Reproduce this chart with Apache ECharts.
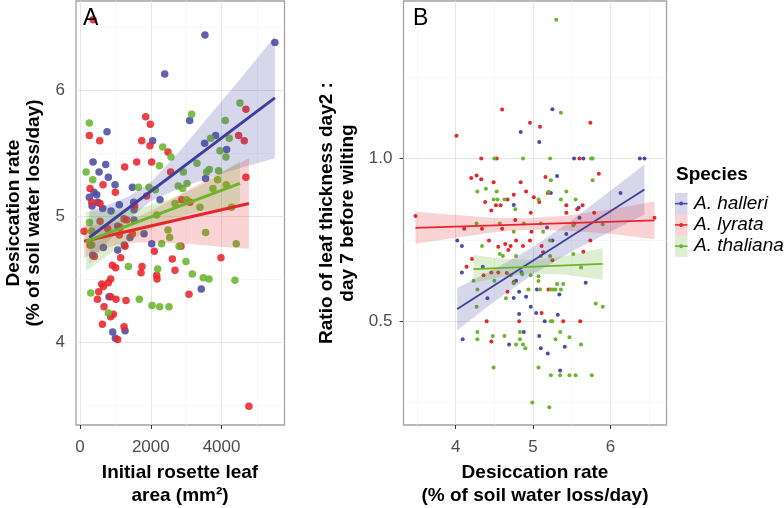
<!DOCTYPE html>
<html>
<head>
<meta charset="utf-8">
<script src="https://cdn.jsdelivr.net/npm/echarts@6/dist/echarts.min.js"></script>
<style>
  html, body { margin: 0; padding: 0; background: #fff; }
  #chart { width: 784px; height: 508px; }
</style>
</head>
<body>
<div id="chart"></div>
<script>
// Panel A: initial rosette leaf area (mm²) vs desiccation rate
var areaHalleri = [[3531,6.44],[5508,6.38],[2392,6.13],[3099,5.76],[763,5.67],[2053,5.60],[3522,5.58],[3833,5.64],[4144,5.53],[367,5.43],[725,5.41],[537,5.35],[800,5.31],[3550,5.30],[989,5.25],[1478,5.23],[395,5.19],[471,5.17],[263,5.15],[339,5.08],[500,5.11],[641,5.06],[1110,5.09],[876,5.04],[1525,5.05],[1515,5.11],[2260,5.13],[1064,4.92],[1525,4.97],[1412,4.83],[1808,4.86],[2025,4.78],[659,4.75],[1064,4.73],[1250,4.77],[358,4.69],[3427,4.42],[819,4.36],[1271,4.09],[923,4.08],[998,4.03]];
var areaLyrata = [[370,6.56],[1856,5.79],[4689,5.85],[1986,5.73],[263,5.64],[556,5.60],[1743,5.60],[1977,5.56],[4483,5.64],[4642,5.60],[2486,5.51],[1601,5.43],[2024,5.43],[1262,5.39],[2561,5.35],[4689,5.31],[650,5.25],[282,5.22],[998,5.19],[330,5.11],[565,5.10],[1545,5.08],[1883,5.16],[2872,5.13],[3107,5.11],[565,4.96],[113,4.88],[782,4.90],[1130,4.91],[1243,4.98],[1318,4.97],[1478,4.86],[1110,4.85],[2100,4.72],[2853,4.76],[3983,4.67],[1271,4.76],[1149,4.67],[282,4.77],[404,4.68],[913,4.61],[1007,4.59],[1751,4.60],[1723,4.55],[2166,4.53],[2175,4.50],[2608,4.66],[2684,4.57],[3079,4.38],[612,4.46],[527,4.40],[659,4.44],[800,4.47],[866,4.50],[490,4.34],[866,4.36],[1017,4.34],[1299,4.33],[678,4.28],[941,4.22],[866,4.20],[631,4.14],[1243,4.12],[1064,4.02],[4774,3.49]];
var areaThaliana = [[4520,5.90],[3155,5.81],[263,5.74],[4105,5.76],[2336,5.55],[3692,5.62],[4218,5.62],[3955,5.52],[4124,5.47],[2571,5.47],[2241,5.40],[3305,5.42],[170,5.35],[2919,5.35],[3578,5.35],[3653,5.37],[3917,5.36],[3889,5.29],[358,5.29],[2777,5.24],[3023,5.26],[2900,5.22],[4133,5.25],[3757,5.22],[1648,5.23],[1949,5.23],[2128,5.21],[2684,5.10],[3013,5.13],[3390,5.07],[4284,5.07],[263,4.95],[330,4.88],[2166,5.01],[2486,4.89],[2533,4.83],[2307,4.78],[2800,4.76],[3550,4.87],[4416,4.78],[330,4.77],[1365,4.60],[2194,4.58],[2994,4.64],[3173,4.54],[3484,4.51],[3644,4.50],[4379,4.49],[301,4.39],[1676,4.34],[2034,4.29],[2250,4.28],[2514,4.28],[800,4.23]];

// Panel B: desiccation rate vs leaf thickness ratio
var rateHalleri = [[5.25,1.152],[4.84,1.082],[5.08,1.051],[5.53,1.0],[5.65,1.0],[6.38,1.0],[6.44,1.0],[5.31,0.946],[5.23,0.894],[4.75,0.857],[5.59,0.849],[6.13,0.894],[5.60,0.818],[5.18,0.788],[5.43,0.768],[4.02,0.748],[4.08,0.731],[5.25,0.748],[4.08,0.649],[4.35,0.667],[4.78,0.624],[4.85,0.651],[5.68,0.618],[5.05,0.597],[4.82,0.59],[5.34,0.582],[4.41,0.57],[4.75,0.571],[4.91,0.575],[4.97,0.544],[4.82,0.522],[5.04,0.525],[5.32,0.519],[5.15,0.499],[4.88,0.466],[4.09,0.444],[5.08,0.454],[4.69,0.428],[5.10,0.416],[5.19,0.40],[5.41,0.421],[5.35,0.348]];
var rateLyrata = [[4.60,1.151],[4.01,1.07],[4.96,1.11],[5.09,1.098],[5.74,1.11],[4.33,1.0],[4.53,1.0],[5.60,1.0],[4.20,0.94],[4.27,0.948],[4.33,0.936],[4.49,0.927],[4.84,0.927],[5.16,0.943],[5.85,0.953],[4.91,0.899],[4.75,0.889],[5.19,0.894],[4.38,0.866],[4.67,0.874],[5.01,0.881],[5.08,0.866],[4.46,0.84],[4.52,0.856],[4.58,0.856],[4.97,0.833],[5.43,0.856],[5.43,0.833],[5.64,0.856],[5.57,0.844],[5.79,0.833],[3.48,0.823],[6.57,0.818],[4.11,0.784],[4.34,0.784],[4.60,0.784],[4.77,0.811],[4.98,0.775],[5.53,0.80],[4.43,0.748],[4.55,0.729],[4.64,0.737],[4.71,0.731],[4.68,0.719],[4.78,0.748],[4.87,0.731],[4.96,0.748],[5.11,0.731],[5.74,0.748],[5.65,0.713],[5.13,0.712],[5.25,0.687],[4.21,0.691],[4.14,0.667],[4.36,0.641],[4.46,0.649],[4.55,0.649],[4.66,0.648],[4.75,0.62],[5.20,0.597],[4.67,0.59],[5.11,0.525],[4.40,0.499],[4.82,0.499],[5.39,0.499],[5.61,0.499],[4.46,0.437]];
var rateThaliana = [[5.30,1.427],[5.36,1.141],[4.50,1.0],[4.87,1.0],[5.22,1.0],[5.75,1.0],[5.77,1.0],[5.23,0.933],[5.77,0.933],[4.28,0.899],[4.39,0.907],[4.53,0.899],[5.20,0.898],[5.43,0.899],[4.49,0.874],[4.54,0.874],[4.63,0.874],[5.07,0.874],[5.36,0.874],[5.55,0.874],[4.77,0.844],[4.27,0.80],[4.57,0.80],[4.88,0.80],[5.10,0.80],[5.13,0.775],[4.75,0.775],[5.52,0.795],[5.90,0.798],[4.34,0.731],[5.22,0.748],[5.52,0.706],[5.10,0.70],[5.22,0.70],[4.57,0.706],[4.61,0.70],[4.78,0.70],[4.50,0.624],[4.23,0.624],[4.71,0.641],[4.86,0.644],[4.97,0.641],[5.07,0.638],[5.07,0.623],[5.62,0.665],[5.23,0.597],[5.26,0.597],[5.29,0.597],[5.09,0.597],[4.94,0.597],[5.36,0.597],[5.39,0.614],[5.31,0.614],[4.75,0.616],[4.28,0.597],[4.65,0.57],[4.27,0.544],[5.81,0.554],[5.90,0.544],[5.23,0.499],[5.25,0.499],[4.28,0.466],[4.83,0.466],[5.35,0.466],[4.28,0.444],[4.48,0.454],[4.63,0.454],[4.83,0.444],[5.29,0.444],[5.47,0.45],[4.78,0.428],[4.87,0.428],[4.90,0.416],[5.62,0.428],[4.49,0.357],[5.07,0.357],[5.23,0.333],[5.35,0.333],[5.47,0.333],[5.55,0.333],[5.76,0.333],[4.99,0.249],[5.21,0.235]];

// fitted lines (end points) and confidence bands [x, lower, upper]
var fitHalleriA = [[263,4.83],[5508,5.94]];
var fitLyrataA = [[113,4.80],[4774,5.10]];
var fitThalianaA = [[170,4.80],[4520,5.26]];
var bandHalleriA = [[263,4.62,5.04],[800,4.80,5.09],[1400,4.98,5.16],[2000,5.12,5.27],[2800,5.22,5.51],[3600,5.30,5.78],[4500,5.38,6.08],[5508,5.46,6.43]];
var bandLyrataA = [[113,4.67,4.93],[600,4.73,4.93],[1000,4.77,4.95],[1600,4.79,4.99],[2200,4.79,5.07],[3000,4.78,5.20],[3800,4.76,5.32],[4774,4.74,5.46]];
var bandThalianaA = [[170,4.565,5.035],[1000,4.73,5.05],[1800,4.87,5.07],[2600,4.98,5.14],[3400,5.04,5.24],[4520,5.08,5.44]];

var fitHalleriB = [[4.02,0.537],[6.44,0.905]];
var fitLyrataB = [[3.48,0.787],[6.57,0.81]];
var fitThalianaB = [[4.23,0.66],[5.90,0.676]];
var bandHalleriB = [[4.02,0.472,0.602],[4.5,0.560,0.660],[5.0,0.644,0.728],[5.5,0.714,0.810],[6.0,0.775,0.901],[6.44,0.828,0.982]];
var bandLyrataB = [[3.48,0.738,0.836],[4.0,0.756,0.826],[4.5,0.773,0.817],[4.9,0.780,0.816],[5.4,0.779,0.823],[6.0,0.769,0.843],[6.57,0.752,0.868]];
var bandThalianaB = [[4.23,0.617,0.703],[4.6,0.636,0.692],[5.0,0.646,0.688],[5.4,0.643,0.699],[5.9,0.627,0.725]];

// ticks and grid lines
var ticksAreaX = [0, 2000, 4000];
var ticksRateAY = [4, 5, 6];
var ticksRateBX = [4, 5, 6];
var ticksRatioY = [0.5, 1.0];
var gridAreaX = [0, 1000, 2000, 3000, 4000, 5000];
var gridRateAY = [3.5, 4, 4.5, 5, 5.5, 6, 6.5];
var gridRateBX = [3.5, 4, 4.5, 5, 5.5, 6, 6.5];
var gridRatioY = [0.25, 0.5, 0.75, 1.0, 1.25];

var species = ['A. halleri', 'A. lyrata', 'A. thaliana'];
var colors = ['#4B4BA3', '#E8252B', '#6BB52C'];
var fills = ['rgba(75,75,163,0.22)', 'rgba(232,37,43,0.2)', 'rgba(107,181,44,0.22)'];

var FONT = '"Liberation Sans", Arial, sans-serif';

function gridLines(idx, xs, ys, xMajor, yMajor) {
  var data = [];
  xs.forEach(function (v) {
    var major = xMajor.indexOf(v) >= 0;
    data.push({ xAxis: v, lineStyle: { color: major ? '#E6E6E6' : '#F3F3F3', width: major ? 1 : 0.7, type: 'solid' } });
  });
  ys.forEach(function (v) {
    var major = yMajor.indexOf(v) >= 0;
    data.push({ yAxis: v, lineStyle: { color: major ? '#E6E6E6' : '#F3F3F3', width: major ? 1 : 0.7, type: 'solid' } });
  });
  return {
    type: 'scatter', xAxisIndex: idx, yAxisIndex: idx, data: [], z: 1, silent: true,
    markLine: { silent: true, symbol: 'none', label: { show: false }, animation: false, z: 1, data: data }
  };
}

function points(idx, data, color, size, opacity) {
  return {
    type: 'scatter', xAxisIndex: idx, yAxisIndex: idx, data: data, z: 2, silent: true,
    symbolSize: size, itemStyle: { color: color, opacity: opacity }
  };
}

function band(idx, rows, fill) {
  return {
    type: 'custom', xAxisIndex: idx, yAxisIndex: idx, data: rows, z: 3, silent: true,
    renderItem: function (params, api) {
      if (params.dataIndex !== 0) return null;
      var pts = [];
      for (var i = 0; i < rows.length; i++) pts.push(api.coord([rows[i][0], rows[i][2]]));
      for (var j = rows.length - 1; j >= 0; j--) pts.push(api.coord([rows[j][0], rows[j][1]]));
      return { type: 'polygon', shape: { points: pts }, style: { fill: fill } };
    }
  };
}

function fit(idx, data, color, width) {
  return {
    type: 'line', xAxisIndex: idx, yAxisIndex: idx, data: data, z: 4, silent: true,
    showSymbol: false, lineStyle: { color: color, width: width }
  };
}

function valueAxis(idx, min, max, ticks, margin, fmt) {
  return {
    type: 'value', gridIndex: idx, min: min, max: max,
    splitLine: { show: false },
    axisLine: { show: false },
    axisTick: { show: true, length: 4, lineStyle: { color: '#333', width: 1 }, customValues: ticks },
    axisLabel: { customValues: ticks, fontSize: 17, color: '#4D4D4D', fontFamily: FONT, margin: margin, formatter: fmt }
  };
}

var series = [
  gridLines(0, gridAreaX, gridRateAY, ticksAreaX, ticksRateAY),
  gridLines(1, gridRateBX, gridRatioY, ticksRateBX, ticksRatioY),
  points(0, areaHalleri, colors[0], 7.5, 0.88),
  points(0, areaLyrata, colors[1], 7.5, 0.88),
  points(0, areaThaliana, colors[2], 7.5, 0.88),
  points(1, rateHalleri, colors[0], 4, 1),
  points(1, rateLyrata, colors[1], 4, 1),
  points(1, rateThaliana, colors[2], 4, 1),
  band(0, bandHalleriA, fills[0]),
  band(0, bandLyrataA, fills[1]),
  band(0, bandThalianaA, fills[2]),
  band(1, bandHalleriB, fills[0]),
  band(1, bandLyrataB, fills[1]),
  band(1, bandThalianaB, fills[2]),
  fit(0, fitHalleriA, '#3E3F9A', 3),
  fit(0, fitLyrataA, colors[1], 3),
  fit(0, fitThalianaA, colors[2], 3),
  fit(1, fitHalleriB, '#3E3F9A', 1.8),
  fit(1, fitLyrataB, colors[1], 1.8),
  fit(1, fitThalianaB, colors[2], 1.8)
];

// legend drawn by hand to get the ggplot key look
var legend = [{
  type: 'text', left: 676, top: 165,
  style: { text: 'Species', font: 'bold 19px ' + FONT, fill: '#000' }
}];
species.forEach(function (name, i) {
  var y0 = 193 + i * 21.3;
  legend.push({ type: 'rect', shape: { x: 675, y: y0, width: 12.5, height: 21.3 }, style: { fill: fills[i] } });
  legend.push({ type: 'line', shape: { x1: 675, y1: y0 + 10.6, x2: 687.5, y2: y0 + 10.6 }, style: { stroke: colors[i], lineWidth: 1.6 } });
  legend.push({ type: 'circle', shape: { cx: 681.2, cy: y0 + 10.6, r: 2 }, style: { fill: colors[i] } });
  legend.push({ type: 'text', x: 694, y: y0 + 10.6, style: { text: name, font: 'italic 19px ' + FONT, fill: '#000', verticalAlign: 'middle' } });
});

var titles = [
  { type: 'text', x: 83, y: 7, z: 10, style: { text: 'A', font: '23px ' + FONT, fill: '#000' } },
  { type: 'text', x: 413, y: 7, z: 10, style: { text: 'B', font: '23px ' + FONT, fill: '#000' } },
  { type: 'text', x: 24, y: 213, rotation: Math.PI / 2,
    style: { text: 'Desiccation rate\n(% of soil water loss/day)', font: 'bold 19px ' + FONT, lineHeight: 20, fill: '#000', align: 'center', verticalAlign: 'middle' } },
  { type: 'text', x: 337.5, y: 213, rotation: Math.PI / 2,
    style: { text: 'Ratio of leaf thickness day2 :\nday 7 before wilting', font: 'bold 19px ' + FONT, lineHeight: 21, fill: '#000', align: 'center', verticalAlign: 'middle' } },
  { type: 'text', x: 180, y: 484,
    style: { text: 'Initial rosette leaf\narea (mm²)', font: 'bold 19px ' + FONT, lineHeight: 23, fill: '#000', align: 'center', verticalAlign: 'middle' } },
  { type: 'text', x: 535, y: 484,
    style: { text: 'Desiccation rate\n(% of soil water loss/day)', font: 'bold 19px ' + FONT, lineHeight: 23, fill: '#000', align: 'center', verticalAlign: 'middle' } }
];

var option = {
  animation: false,
  backgroundColor: '#fff',
  grid: [
    { left: 76, top: 1, width: 208.5, height: 424, show: true, borderColor: '#A3A3A3', borderWidth: 1.3, backgroundColor: '#fff' },
    { left: 403.5, top: 1, width: 263, height: 424, show: true, borderColor: '#A3A3A3', borderWidth: 1.3, backgroundColor: '#fff' }
  ],
  xAxis: [
    valueAxis(0, -115, 5780, ticksAreaX, 14, function (v) { return String(v); }),
    valueAxis(1, 3.325, 6.725, ticksRateBX, 14, function (v) { return String(v); })
  ],
  yAxis: [
    valueAxis(0, 3.34, 6.71, ticksRateAY, 11, function (v) { return String(v); }),
    valueAxis(1, 0.18, 1.485, ticksRatioY, 11, function (v) { return v.toFixed(1); })
  ],
  graphic: legend.concat(titles),
  series: series
};

var chart = echarts.init(document.getElementById('chart'));
chart.setOption(option);
</script>
</body>
</html>
